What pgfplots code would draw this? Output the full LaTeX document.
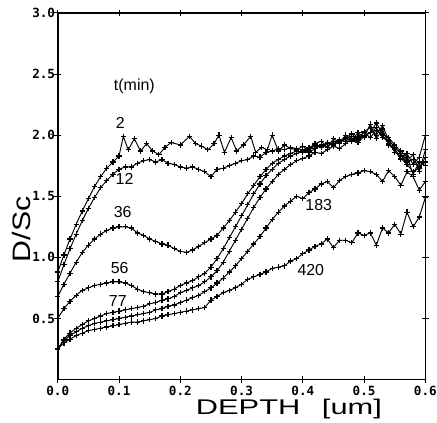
\documentclass[border=0pt]{standalone}
\usepackage{pgfplots}
\usepackage{pgfplotstable}
\pgfplotsset{compat=1.18}
\usepackage{fontspec}
\setmainfont{Liberation Sans}
\newfontfamily\tickfont{DejaVu Sans Mono}

% D/Sc depth profiles, one table per annealing time t (min)
\pgfplotstableread{
x y
0.00 0.88
0.01 1.02
0.02 1.15
0.03 1.27
0.04 1.38
0.05 1.48
0.06 1.58
0.07 1.66
0.08 1.73
0.09 1.78
0.10 1.83
0.107 1.99
0.115 1.88
0.125 1.97
0.135 1.87
0.145 1.93
0.155 1.87
0.165 1.84
0.175 1.90
0.185 1.94
0.20 1.92
0.215 1.99
0.225 1.93
0.235 1.91
0.245 1.88
0.255 1.93
0.263 2.00
0.272 1.86
0.283 1.98
0.292 1.87
0.303 1.92
0.315 1.99
0.323 1.86
0.333 1.90
0.342 1.88
0.35 2.00
0.36 1.87
0.37 1.92
0.38 1.89
0.39 1.88
0.40 1.91
0.41 1.87
0.42 1.93
0.43 1.95
0.44 1.90
0.45 1.97
0.46 1.94
0.47 2.00
0.48 1.96
0.49 2.02
0.50 1.98
0.51 2.09
0.52 1.97
0.53 2.05
0.54 1.92
0.55 1.88
0.56 1.80
0.57 1.85
0.58 1.76
0.59 1.82
0.60 2.00
}\tA
\pgfplotstableread{
x y
0.00 0.80
0.01 0.94
0.02 1.07
0.03 1.19
0.04 1.30
0.05 1.40
0.06 1.49
0.07 1.57
0.08 1.63
0.09 1.68
0.10 1.72
0.11 1.74
0.12 1.74
0.13 1.77
0.14 1.79
0.15 1.80
0.16 1.78
0.17 1.80
0.18 1.77
0.19 1.76
0.20 1.74
0.21 1.73
0.22 1.74
0.23 1.72
0.24 1.70
0.25 1.66
0.26 1.72
0.27 1.73
0.28 1.75
0.29 1.77
0.30 1.79
0.31 1.80
0.32 1.83
0.33 1.82
0.34 1.86
0.35 1.87
0.36 1.89
0.37 1.88
0.38 1.90
0.39 1.89
0.40 1.88
0.41 1.90
0.42 1.92
0.43 1.91
0.44 1.94
0.45 1.93
0.46 1.96
0.47 1.95
0.48 1.99
0.49 1.97
0.50 2.00
0.51 2.02
0.52 2.06
0.53 1.98
0.54 1.95
0.55 1.86
0.56 1.83
0.57 1.78
0.58 1.80
0.59 1.74
0.60 1.78
}\tB
\pgfplotstableread{
x y
0.00 0.68
0.01 0.78
0.02 0.87
0.03 0.96
0.04 1.04
0.05 1.10
0.06 1.15
0.07 1.19
0.08 1.22
0.09 1.24
0.10 1.25
0.11 1.25
0.12 1.24
0.13 1.20
0.14 1.18
0.15 1.15
0.16 1.13
0.17 1.11
0.18 1.10
0.19 1.07
0.20 1.05
0.21 1.04
0.22 1.06
0.23 1.09
0.24 1.12
0.25 1.15
0.26 1.18
0.27 1.24
0.28 1.30
0.29 1.37
0.30 1.44
0.31 1.52
0.32 1.59
0.33 1.66
0.34 1.72
0.35 1.77
0.36 1.80
0.37 1.83
0.38 1.85
0.39 1.87
0.40 1.86
0.41 1.89
0.42 1.91
0.43 1.90
0.44 1.93
0.45 1.92
0.46 1.95
0.47 1.97
0.48 1.95
0.49 1.99
0.50 2.02
0.51 1.98
0.52 2.04
0.53 2.00
0.54 1.93
0.55 1.89
0.56 1.81
0.57 1.76
0.58 1.70
0.59 1.73
0.60 1.82
}\tC
\pgfplotstableread{
x y
0.00 0.50
0.01 0.58
0.02 0.64
0.03 0.69
0.04 0.73
0.05 0.75
0.06 0.77
0.07 0.78
0.08 0.79
0.09 0.80
0.10 0.80
0.11 0.79
0.12 0.77
0.13 0.74
0.14 0.72
0.15 0.71
0.16 0.70
0.17 0.70
0.18 0.72
0.19 0.74
0.20 0.77
0.21 0.79
0.22 0.81
0.23 0.84
0.24 0.87
0.25 0.92
0.26 0.99
0.27 1.07
0.28 1.16
0.29 1.25
0.30 1.34
0.31 1.43
0.32 1.52
0.33 1.60
0.34 1.67
0.35 1.72
0.36 1.77
0.37 1.80
0.38 1.83
0.39 1.85
0.40 1.87
0.41 1.86
0.42 1.89
0.43 1.92
0.44 1.90
0.45 1.95
0.46 1.93
0.47 1.98
0.48 2.01
0.49 1.96
0.50 2.03
0.51 2.06
0.52 2.00
0.53 2.08
0.54 1.96
0.55 1.90
0.56 1.85
0.57 1.79
0.58 1.84
0.59 1.70
0.60 1.88
}\tD
\pgfplotstableread{
x y
0.00 0.25
0.01 0.33
0.02 0.38
0.03 0.42
0.04 0.45
0.05 0.48
0.06 0.50
0.07 0.52
0.08 0.54
0.09 0.55
0.10 0.56
0.11 0.57
0.12 0.58
0.13 0.59
0.14 0.60
0.15 0.62
0.16 0.63
0.17 0.65
0.18 0.66
0.19 0.68
0.20 0.71
0.21 0.73
0.22 0.75
0.23 0.77
0.24 0.80
0.25 0.84
0.26 0.89
0.27 0.96
0.28 1.05
0.29 1.14
0.30 1.23
0.31 1.32
0.32 1.41
0.33 1.49
0.34 1.56
0.35 1.62
0.36 1.68
0.37 1.72
0.38 1.76
0.39 1.79
0.40 1.81
0.41 1.83
0.42 1.86
0.43 1.85
0.44 1.88
0.45 1.91
0.46 1.89
0.47 1.93
0.48 1.97
0.49 1.94
0.50 1.99
0.51 2.02
0.52 2.10
0.53 2.01
0.54 1.98
0.55 1.92
0.56 1.87
0.57 1.82
0.58 1.68
0.59 1.78
0.60 1.75
}\tE
\pgfplotstableread{
x y
0.00 0.25
0.01 0.32
0.02 0.36
0.03 0.39
0.04 0.42
0.05 0.44
0.06 0.46
0.07 0.47
0.08 0.48
0.09 0.49
0.10 0.50
0.11 0.51
0.12 0.52
0.13 0.53
0.14 0.54
0.15 0.55
0.16 0.57
0.17 0.58
0.18 0.60
0.19 0.61
0.20 0.63
0.21 0.65
0.22 0.67
0.23 0.69
0.24 0.72
0.25 0.75
0.26 0.79
0.27 0.83
0.28 0.88
0.29 0.93
0.30 0.99
0.31 1.05
0.32 1.11
0.33 1.17
0.34 1.24
0.35 1.31
0.36 1.37
0.37 1.42
0.38 1.46
0.39 1.50
0.40 1.48
0.41 1.53
0.42 1.56
0.43 1.60
0.44 1.62
0.45 1.57
0.46 1.63
0.47 1.66
0.48 1.68
0.49 1.69
0.50 1.71
0.51 1.70
0.52 1.68
0.53 1.62
0.54 1.71
0.55 1.66
0.56 1.59
0.57 1.70
0.58 1.66
0.59 1.55
0.60 1.62
}\tF
\pgfplotstableread{
x y
0.00 0.25
0.01 0.30
0.02 0.33
0.03 0.36
0.04 0.38
0.05 0.40
0.06 0.41
0.07 0.42
0.08 0.43
0.09 0.44
0.10 0.45
0.11 0.46
0.12 0.47
0.13 0.47
0.14 0.48
0.15 0.49
0.16 0.50
0.17 0.52
0.18 0.53
0.19 0.54
0.20 0.55
0.21 0.56
0.22 0.57
0.23 0.58
0.24 0.59
0.25 0.65
0.26 0.68
0.27 0.71
0.28 0.73
0.29 0.75
0.30 0.78
0.31 0.82
0.32 0.84
0.33 0.86
0.34 0.88
0.35 0.91
0.36 0.92
0.37 0.93
0.38 0.97
0.39 0.99
0.40 1.03
0.41 1.06
0.42 1.09
0.43 1.11
0.44 1.15
0.45 1.08
0.46 1.14
0.47 1.14
0.48 1.12
0.49 1.20
0.50 1.18
0.51 1.20
0.52 1.10
0.53 1.24
0.54 1.20
0.55 1.27
0.56 1.19
0.57 1.37
0.58 1.25
0.59 1.33
0.60 1.49
}\tG

\pgfplotsset{profile/.style={black, solid, line width=0.7pt, mark=+,
  mark size=2pt, mark options={solid, line width=0.9pt}}}

\begin{document}
\begin{tikzpicture}[x=1pt,y=1pt]
\begin{axis}[
  scale only axis,
  width=276.75pt, height=276pt,
  at={(0,0)}, anchor=south west,
  xmin=0, xmax=0.6, ymin=0, ymax=3,
  xtick={0,0.1,...,0.6},
  xticklabels={0.0,0.1,0.2,0.3,0.4,0.5,0.6},
  ytick={0.5,1,1.5,2,2.5,3},
  yticklabels={0.5,1.0,1.5,2.0,2.5,3.0},
  tick pos=both, tick align=center,
  major tick length=5pt,
  every tick/.style={black, line width=0.8pt},
  axis line style={line width=1.1pt},
  ticklabel style={font=\tickfont\bfseries\fontsize{9.5}{9.5}\selectfont},
  xticklabel style={yshift=1pt},
  yticklabel style={xshift=4pt},
  clip=false,
]
\addplot[profile] table[x=x,y=y] {\tA};
\addplot[profile] table[x=x,y=y] {\tB};
\addplot[profile] table[x=x,y=y] {\tC};
\addplot[profile] table[x=x,y=y] {\tD};
\addplot[profile] table[x=x,y=y] {\tE};
\addplot[profile] table[x=x,y=y] {\tF};
\addplot[profile] table[x=x,y=y] {\tG};

\begin{scope}[every node/.style={font=\fontsize{12}{12}\selectfont, inner sep=0pt}]
\node at (axis cs:0.125,2.40) {t(min)};
\node at (axis cs:0.102,2.10) {2};
\node at (axis cs:0.109,1.64) {12};
\node at (axis cs:0.106,1.37) {36};
\node at (axis cs:0.101,0.91) {56};
\node at (axis cs:0.098,0.64) {77};
\node at (axis cs:0.426,1.43) {183};
\node at (axis cs:0.413,0.90) {420};
\end{scope}
\end{axis}
\node[font=\fontsize{16}{16}\selectfont, xscale=1.45, inner sep=0pt] at (174pt,-22.5pt) {DEPTH\hspace{0.7em}[um]};
\node[font=\fontsize{19}{19}\selectfont, rotate=90, xscale=1.2, inner sep=0pt] at (-27pt,113pt) {D/Sc};
\pgfresetboundingbox
\path (-43.5pt,-32.25pt) rectangle (285.5pt,285.75pt);
\end{tikzpicture}
\end{document}
